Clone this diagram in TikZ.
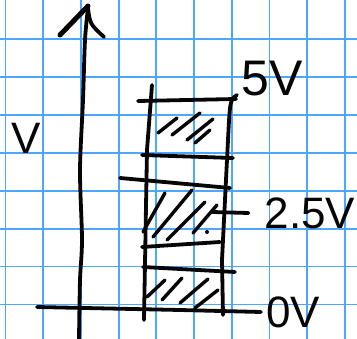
\documentclass[tikz,border=0pt]{standalone}
\usepackage{fontspec}
\setmainfont{Liberation Sans}
\usetikzlibrary{calc}
\definecolor{gridblue}{HTML}{4DA6FF}
\definecolor{inkblack}{HTML}{050505}
\tikzset{
  gridline/.style={gridblue, line width=1.8pt},
  ink/.style={inkblack, line width=3.8pt, line cap=round, line join=round},
  hatch/.style={inkblack, line width=3.4pt, line cap=round},
  lbl/.style={inner sep=0pt, text=inkblack, font=\fontsize{44}{44}\selectfont},
}

\begin{document}
\begin{tikzpicture}[x=1pt, y=-1pt]
    \useasboundingbox (0,0) rectangle (357,339);
    \fill[white] (0,0) rectangle (357,339);
    % grid paper
    \foreach \k in {0,...,9}
      \draw[gridline] (5.5+37.7*\k,0) -- (5.5+37.7*\k,339);
    \foreach \k in {1,...,8}
      \draw[gridline] (0,1.3+37.9*\k) -- (357,1.3+37.9*\k);

    \node[lbl] (vname) at (26,138) {V};
    \node[lbl, font=\fontsize{50}{50}\selectfont] (fivev) at (272,79) {5V};
    \node[lbl] (halfv) at (310,213) {2.5V};
    \node[lbl] (zerov) at (293,312) {0V};

    % axes
    \draw[ink] plot[smooth] coordinates {(88,8) (85,40) (83,100) (80,170) (82,240) (80,280) (79,339)};
    \draw[ink, line width=5pt] (88,6) -- (60,35);
    \draw[ink] (88,8) .. controls (90,24) .. (104,37);
    \draw[ink] (37,307) -- (180,310) -- ([xshift=-5pt]zerov.west);

    % column
    \draw[ink] (152,85) -- (147,150) -- (144,320);
    \draw[ink] (237,95) .. controls (230,100) .. (228,140) -- (222,260) -- (223,315);
    \draw[ink] (138,101) -- (236,99);
    \draw[ink] (142,155) -- (233,158);
    \draw[ink] (120,178) -- (230,188);
    \draw[ink] (142,247) -- (220,242);
    \draw[ink] (143,267) -- (235,272);
    \draw[ink] (212,212) -- ([xshift=-16pt]halfv.west);

    % hatching
    \foreach \xa/\ya/\xb/\yb in {158/133/177/118, 172/135/200/113, 187/140/213/119, 195/143/210/130,
        143/232/165/193, 153/237/192/190, 167/240/205/202, 193/233/217/205,
        147/297/165/280, 162/300/182/278, 180/303/208/279, 195/308/218/290}
      \draw[hatch] (\xa,\ya) -- (\xb,\yb);
    \fill[inkblack] (207,232) circle (2pt);
\end{tikzpicture}
\end{document}
